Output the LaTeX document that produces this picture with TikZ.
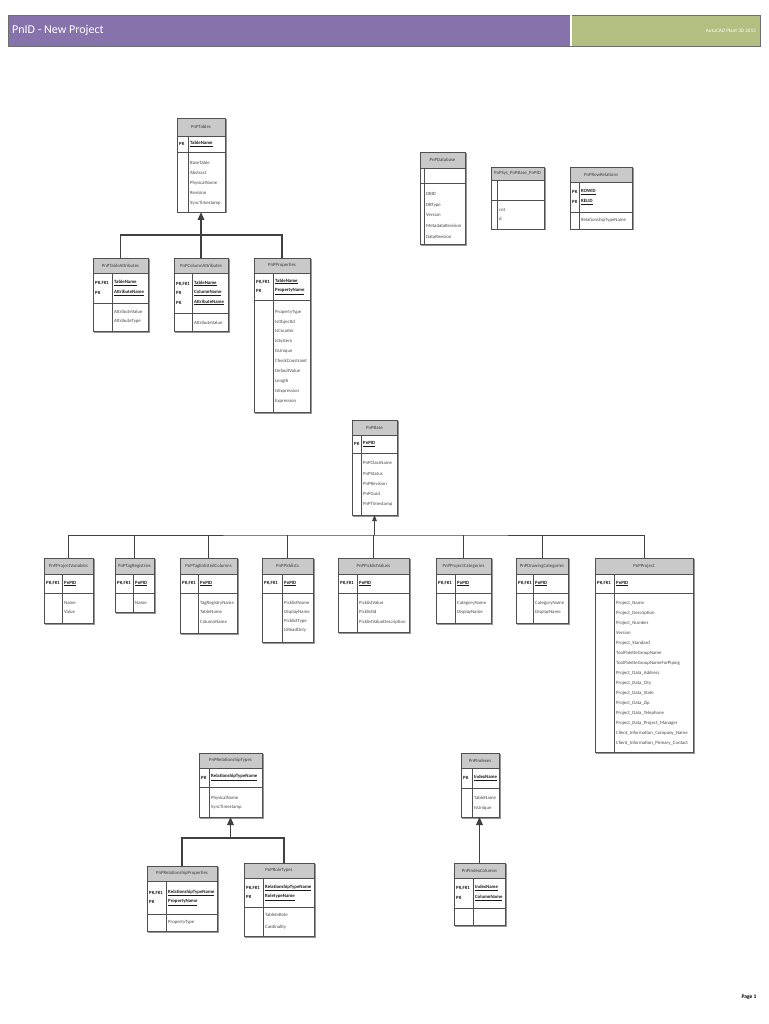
\documentclass[tikz,border=0pt]{standalone}
\usepackage{fontspec}
\setmainfont{Carlito}
\usetikzlibrary{arrows.meta,calc}
\definecolor{hdrpurple}{RGB}{135,115,171}
\definecolor{hdrgreen}{RGB}{178,191,129}
\definecolor{hdrborder}{RGB}{110,110,110}
\definecolor{titlegray}{RGB}{201,201,201}
\definecolor{boxcol}{RGB}{80,80,80}
\definecolor{shadowcol}{RGB}{150,150,150}
\definecolor{linecol}{RGB}{64,64,64}
\definecolor{titletxt}{RGB}{60,60,60}
\definecolor{attrtxt}{RGB}{70,70,70}
\definecolor{keytxt}{RGB}{25,25,25}
\tikzset{
  tblbox/.style={draw=boxcol, line width=0.7pt, inner sep=0pt, outer sep=0pt},
  rowline/.style={draw=boxcol, line width=0.6pt},
  boxshadow/.style={draw=shadowcol, line width=0.8pt},
  titlefill/.style={fill=titlegray},
  titletext/.style={font=\fontsize{4.8}{6}\selectfont, text=titletxt, inner sep=0pt},
  pktext/.style={font=\bfseries\fontsize{4.8}{9.5}\selectfont, text=keytxt, align=left, inner sep=0pt},
  keytext/.style={font=\bfseries\fontsize{4.8}{9.5}\selectfont, text=keytxt, align=left, inner sep=0pt},
  attrtext/.style={font=\fontsize{4.8}{6}\selectfont, text=attrtxt, inner sep=0pt},
  tree/.style={draw=linecol, line width=1.7pt},
  thintree/.style={draw=linecol, line width=0.9pt},
  bigtip/.style={-{Triangle[length=8pt,width=6.5pt]}},
  smalltip/.style={-{Triangle[length=6pt,width=4.5pt]}},
  hdrtitle/.style={font=\fontsize{12}{14}\selectfont, text=white, inner sep=0pt},
  hdrsub/.style={font=\fontsize{5.2}{6}\selectfont, text=white, inner sep=0pt},
  pagetext/.style={font=\bfseries\fontsize{5.5}{6}\selectfont, text=black, inner sep=0pt}
}
% name, title, x1, x2, ytop, ytitle, ypk, ybot, xdiv
\newcommand{\erdtbl}[9]{%
  \fill[titlefill] (#3,#5) rectangle (#4,#6);
  \draw[rowline] (#3,#6) -- (#4,#6) (#3,#7) -- (#4,#7) (#9,#6) -- (#9,#8);
  \draw[boxshadow] ({#3+1.2},{#8+0.9}) -- ({#4+0.9},{#8+0.9}) -- ({#4+0.9},{#5+1.2});
  \node[tblbox, minimum width={(#4-#3)*1pt}, minimum height={(#8-#5)*1pt}, anchor=north west] (#1) at (#3,#5) {};
  \node[titletext] (#1-title) at ({(#3+#4)/2},{(#5+#6)/2}) {#2};
  \coordinate (#1-pkw) at ({#3+2},{(#6+#7)/2});
  \coordinate (#1-keyw) at ({#9+2},{(#6+#7)/2});
  \coordinate (#1-attr) at ({#9+2},#7);
}
\newcommand{\erdpk}[2]{\node[pktext, anchor=west] (#1-pk) at (#1-pkw) {#2};}
\newcommand{\erdkey}[2]{\node[keytext, anchor=west] (#1-key) at (#1-keyw) {#2};}
% name, offset of first line, spacing, list
\newcommand{\erdattr}[4]{%
  \foreach \attritem [count=\ai] in {#4} {
    \node[attrtext, anchor=base west] (#1-a\ai) at ($(#1-attr)+(0,{#2+1.6+(\ai-1)*#3})$) {\attritem};
  }}
\newcommand{\erdu}[1]{\underline{#1}}
\begin{document}
\begin{tikzpicture}[x=1pt,y=-1pt]
\useasboundingbox (0,0) rectangle (768,1024);
\fill[white] (0,0) rectangle (768,1024);
% header
\fill[hdrpurple] (8,15) rectangle (570,46);
\fill[hdrgreen] (572,15) rectangle (760,46);
\draw[hdrborder, line width=0.8pt] (8,15) rectangle (760,46);
\draw[white, line width=1.4pt] (571,15.5) -- (571,45.5);
\node[hdrtitle, anchor=west] (hdrtitle) at (12,30.5) {PnID - New Project};
\node[hdrsub, anchor=east] (hdrsub) at (756,31) {AutoCAD Plant 3D 2013};

% PnPTables group
\erdtbl{ptables}{PnPTables}{177}{225}{118}{136}{152}{212}{188}
\erdpk{ptables}{PK}
\erdkey{ptables}{\erdu{TableName}}
\erdattr{ptables}{11}{10}{BaseTable,Abstract,PhysicalName,Revision,SyncTimestamp}

\erdtbl{ptattr}{PnPTableAttributes}{93}{148}{258}{273}{303}{331}{112}
\erdpk{ptattr}{PK,FK1\\PK}
\erdkey{ptattr}{\erdu{TableName}\\\erdu{AttributeName}}
\erdattr{ptattr}{8.7}{9.5}{AttributeValue,AttributeType}

\erdtbl{pcolattr}{PnPColumnAttributes}{174}{228}{258}{273}{313}{331}{192}
\erdpk{pcolattr}{PK,FK1\\PK\\PK}
\erdkey{pcolattr}{\erdu{TableName}\\\erdu{ColumnName}\\\erdu{AttributeName}}
\erdattr{pcolattr}{10}{10}{AttributeValue}

\erdtbl{pprops}{PnPProperties}{254}{310}{258}{273}{300}{412}{273}
\erdpk{pprops}{PK,FK1\\PK}
\erdkey{pprops}{\erdu{TableName}\\\erdu{PropertyName}}
\erdattr{pprops}{11.5}{9.9}{PropertyType,IsObjectId,IsCounter,IsSystem,IsUnique,CheckConstraint,DefaultValue,Length,IsExpression,Expression}

\coordinate (y1) at (0,235);
\coordinate (j1) at (ptables.south |- y1);
\draw[tree] (ptattr.north) |- (j1) -| (pprops.north);
\draw[tree] (pcolattr.north) -- (pcolattr.north |- j1);
\draw[tree,bigtip] (j1) -- (ptables.south);

% top right tables
\erdtbl{pdb}{PnPDatabase}{420}{465}{152}{168}{183}{244}{424}
\erdattr{pdb}{11}{10.6}{DBID,DBType,Version,MetadataRevision,DataRevision}

\erdtbl{psys}{PnPSys\_PnPBase\_PnPID}{491}{544}{167}{180}{200}{229}{497}
\erdattr{psys}{10}{9.3}{cnt,d}

\erdtbl{prowrel}{PnPRowRelations}{570}{632}{167}{182}{212}{229}{579}
\erdpk{prowrel}{PK\\PK}
\erdkey{prowrel}{\erdu{ROWID}\\\erdu{RELID}}
\erdattr{prowrel}{8}{10}{RelationshipTypeName}

% PnPBase
\erdtbl{pbase}{PnPBase}{352}{397}{420}{435}{453}{515}{361}
\erdpk{pbase}{PK}
\erdkey{pbase}{\erdu{PnPID}}
\erdattr{pbase}{10.3}{10.25}{PnPClassName,PnPStatus,PnPRevision,PnPGuid,PnPTimestamp}

% row of child tables
\erdtbl{ppv}{PnPProjectVariables}{44}{93}{558}{574}{593}{623}{62}
\erdpk{ppv}{PK,FK1}
\erdkey{ppv}{\erdu{PnPID}}
\erdattr{ppv}{10}{9}{Name,Value}

\erdtbl{ptagreg}{PnPTagRegistries}{115}{154}{558}{574}{593}{612}{133}
\erdpk{ptagreg}{PK,FK1}
\erdkey{ptagreg}{\erdu{PnPID}}
\erdattr{ptagreg}{10}{9}{Name}

\erdtbl{ptagenl}{PnPTagEnlistedColumns}{180}{237}{558}{574}{593}{633}{198}
\erdpk{ptagenl}{PK,FK1}
\erdkey{ptagenl}{\erdu{PnPID}}
\erdattr{ptagenl}{10}{9.2}{TagRegistryName,TableName,ColumnName}

\erdtbl{ppick}{PnPPicklists}{262}{313}{558}{574}{593}{642}{282}
\erdpk{ppick}{PK,FK1}
\erdkey{ppick}{\erdu{PnPID}}
\erdattr{ppick}{10}{9}{PicklistName,DisplayName,PicklistType,IsReadOnly}

\erdtbl{ppickv}{PnPPicklistValues}{338}{409}{558}{574}{593}{632}{357}
\erdpk{ppickv}{PK,FK1}
\erdkey{ppickv}{\erdu{PnPID}}
\erdattr{ppickv}{10}{9.2}{PicklistValue,PicklistId,PicklistValueDescription}

\erdtbl{pprojcat}{PnPProjectCategories}{436}{491}{558}{574}{593}{623}{455}
\erdpk{pprojcat}{PK,FK1}
\erdkey{pprojcat}{\erdu{PnPID}}
\erdattr{pprojcat}{10}{9}{CategoryName,DisplayName}

\erdtbl{pdwgcat}{PnPDrawingCategories}{516}{568}{558}{574}{593}{623}{533}
\erdpk{pdwgcat}{PK,FK1}
\erdkey{pdwgcat}{\erdu{PnPID}}
\erdattr{pdwgcat}{10}{9}{CategoryName,DisplayName}

\erdtbl{pproj}{PnPProject}{595}{693}{558}{574}{593}{752}{614}
\erdpk{pproj}{PK,FK1}
\erdkey{pproj}{\erdu{PnPID}}
\erdattr{pproj}{10}{10}{Project\_Name,Project\_Description,Project\_Number,Version,Project\_Standard,ToolPaletteGroupName,ToolPaletteGroupNameForPiping,Project\_Data\_Address,Project\_Data\_City,Project\_Data\_State,Project\_Data\_Zip,Project\_Data\_Telephone,Project\_Data\_Project\_Manager,Client\_Information\_Company\_Name,Client\_Information\_Primary\_Contact}

\coordinate (y2) at (0,535);
\coordinate (j2) at (pbase.south |- y2);
\draw[thintree] (ppv.north) |- (j2) -| (pproj.north);
\foreach \cn in {ptagreg,ptagenl,ppick,ppickv,pprojcat,pdwgcat}
  \draw[thintree] (\cn.north) -- (\cn.north |- j2);
\draw[thintree,smalltip] (j2) -- (pbase.south);

% relationship types group
\erdtbl{preltypes}{PnPRelationshipTypes}{199}{262}{753}{768}{787}{817}{209}
\erdpk{preltypes}{PK}
\erdkey{preltypes}{\erdu{RelationshipTypeName}}
\erdattr{preltypes}{10.5}{9.6}{PhysicalName,SyncTimestamp}

\erdtbl{prelprops}{PnPRelationshipProperties}{147}{217}{866}{881}{914}{931}{166}
\erdpk{prelprops}{PK,FK1\\PK}
\erdkey{prelprops}{\erdu{RelationshipTypeName}\\\erdu{PropertyName}}
\erdattr{prelprops}{7.7}{10}{PropertyType}

\erdtbl{proletypes}{PnPRoleTypes}{244}{314}{863}{878}{907}{936}{263}
\erdpk{proletypes}{PK,FK1\\PK}
\erdkey{proletypes}{\erdu{RelationshipTypeName}\\\erdu{RoletypeName}}
\erdattr{proletypes}{8}{11.7}{TableInRole,Cardinality}

\coordinate (y3) at (0,838);
\coordinate (j3) at (preltypes.south |- y3);
\coordinate (rt3) at ([xshift=5pt]proletypes.north);
\draw[tree] (prelprops.north) |- (j3) -| (rt3);
\draw[tree,bigtip] (j3) -- (preltypes.south);

% indexes group
\erdtbl{pidx}{PnPIndexes}{461}{499}{753}{768}{788}{817}{472}
\erdpk{pidx}{PK}
\erdkey{pidx}{\erdu{IndexName}}
\erdattr{pidx}{10}{9.6}{TableName,IsUnique}

\erdtbl{pidxcol}{PnPIndexColumns}{454}{505}{863}{878}{908}{925}{473}
\erdpk{pidxcol}{PK,FK1\\PK}
\erdkey{pidxcol}{\erdu{IndexName}\\\erdu{ColumnName}}

\draw[tree,bigtip] (pidxcol.north) -- (pidxcol.north |- pidx.south);

\node[pagetext] (pagelbl) at (749,997) {Page 1};
\end{tikzpicture}
\end{document}
